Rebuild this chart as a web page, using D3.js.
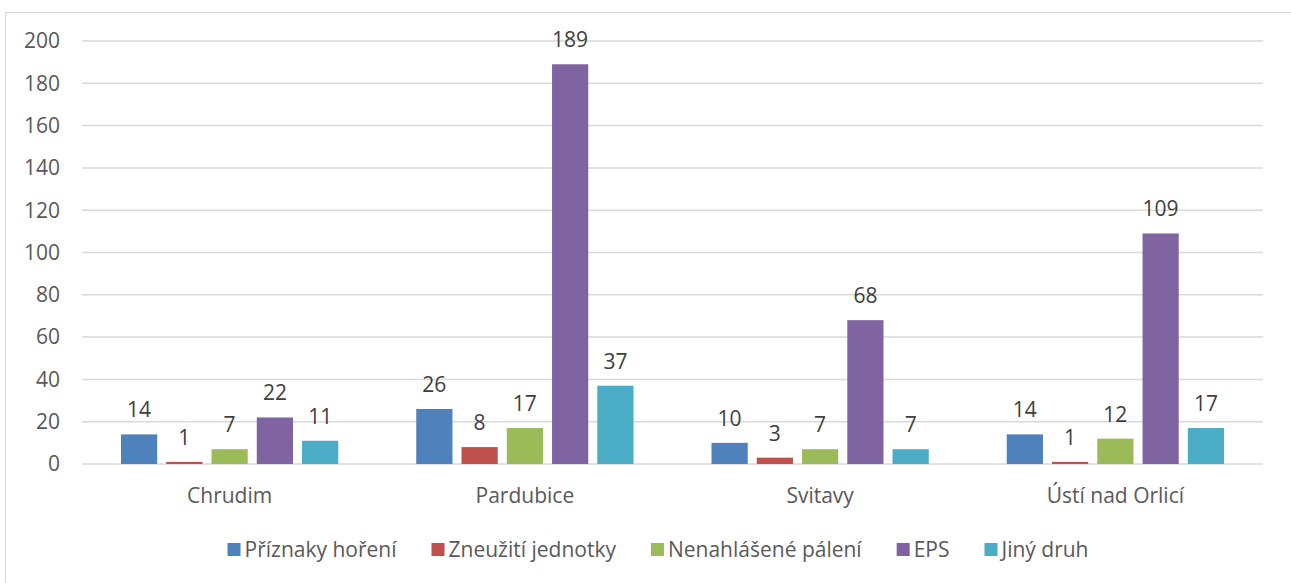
<!DOCTYPE html>
<html lang="cs">
<head>
  <meta charset="UTF-8">
  <script src="https://d3js.org/d3.v7.min.js"></script>
  <style>
    body { margin: 0; background: #fff; }
    text { font-family: "Open Sans", "Noto Sans", sans-serif; fill: #595959; }
  </style>
  <title>Výjezdy podle okresů</title>
</head>
<body>
  <div id="chart"></div>
  <script>
    // data
    var categories = ["Chrudim", "Pardubice", "Svitavy", "Ústí nad Orlicí"];
    var seriesNames = ["Příznaky hoření", "Zneužití jednotky", "Nenahlášené pálení", "EPS", "Jiný druh"];
    var seriesColors = ["#4F81BD", "#C0504D", "#9BBB59", "#8064A2", "#4BACC6"];
    var values = [
      [14, 26, 10, 14],   // Příznaky hoření
      [1, 8, 3, 1],       // Zneužití jednotky
      [7, 17, 7, 12],     // Nenahlášené pálení
      [22, 189, 68, 109], // EPS
      [11, 37, 7, 17]     // Jiný druh
    ];
    var yTicks = [0, 20, 40, 60, 80, 100, 120, 140, 160, 180, 200];

    var width = 1291, height = 583;
    var plot = { left: 82, right: 1263, top: 41, bottom: 464 };
    var fs = "21px";

    var svg = d3.select("#chart").append("svg")
      .attr("width", width)
      .attr("height", height);

    // outer chart border (only top and left edges fall inside the picture)
    svg.append("rect")
      .attr("x", 5.5).attr("y", 12.5)
      .attr("width", 1300).attr("height", 600)
      .attr("fill", "none")
      .attr("stroke", "#d9d9d9")
      .attr("stroke-width", 1);

    var x0 = d3.scaleBand()
      .domain(categories)
      .range([plot.left, plot.right])
      .padding(0);

    var x1 = d3.scaleBand()
      .domain(d3.range(seriesNames.length))
      .range([39, x0.bandwidth() - 39])
      .paddingInner(0.2)
      .paddingOuter(0);

    var y = d3.scaleLinear()
      .domain([0, 200])
      .range([plot.bottom, plot.top]);

    // gridlines
    svg.append("g").selectAll("line")
      .data(yTicks)
      .enter().append("line")
      .attr("x1", plot.left).attr("x2", plot.right)
      .attr("y1", function(d) { return y(d); })
      .attr("y2", function(d) { return y(d); })
      .attr("stroke", "#d9d9d9")
      .attr("stroke-width", 1.5);

    // y axis labels
    svg.append("g").selectAll("text")
      .data(yTicks)
      .enter().append("text")
      .attr("x", 60)
      .attr("y", function(d) { return y(d); })
      .attr("dy", "0.35em")
      .attr("text-anchor", "end")
      .style("font-size", fs)
      .text(function(d) { return d; });

    // bars
    var groups = svg.append("g").selectAll("g")
      .data(categories)
      .enter().append("g")
      .attr("transform", function(d) { return "translate(" + x0(d) + ",0)"; });

    groups.selectAll("rect")
      .data(function(d, ci) { return values.map(function(s, si) { return { s: si, v: s[ci] }; }); })
      .enter().append("rect")
      .attr("x", function(d) { return x1(d.s); })
      .attr("width", x1.bandwidth())
      .attr("y", function(d) { return y(d.v); })
      .attr("height", function(d) { return plot.bottom - y(d.v); })
      .attr("fill", function(d) { return seriesColors[d.s]; });

    // data labels
    groups.selectAll("text")
      .data(function(d, ci) { return values.map(function(s, si) { return { s: si, v: s[ci] }; }); })
      .enter().append("text")
      .attr("x", function(d) { return x1(d.s) + x1.bandwidth() / 2; })
      .attr("y", function(d) { return y(d.v) - 17; })
      .attr("text-anchor", "middle")
      .style("font-size", fs)
      .style("fill", "#404040")
      .text(function(d) { return d.v; });

    // category labels
    svg.append("g").selectAll("text")
      .data(categories)
      .enter().append("text")
      .attr("x", function(d) { return x0(d) + x0.bandwidth() / 2; })
      .attr("y", 503)
      .attr("text-anchor", "middle")
      .style("font-size", fs)
      .text(function(d) { return d; });

    // legend, centred under the plot
    var legend = svg.append("g");
    var items = legend.selectAll("g")
      .data(seriesNames)
      .enter().append("g");
    items.append("rect")
      .attr("width", 13).attr("height", 13)
      .attr("y", 543)
      .attr("fill", function(d, i) { return seriesColors[i]; });
    items.append("text")
      .attr("x", 17)
      .attr("y", 557)
      .style("font-size", fs)
      .text(function(d) { return d; });

    var offs = [], pos = 0;
    items.each(function() {
      offs.push(pos);
      pos += 17 + this.querySelector("text").getComputedTextLength() + 35;
    });
    var total = pos - 35;
    var start = 658 - total / 2;
    items.attr("transform", function(d, i) { return "translate(" + (start + offs[i]) + ",0)"; });
  </script>
</body>
</html>
